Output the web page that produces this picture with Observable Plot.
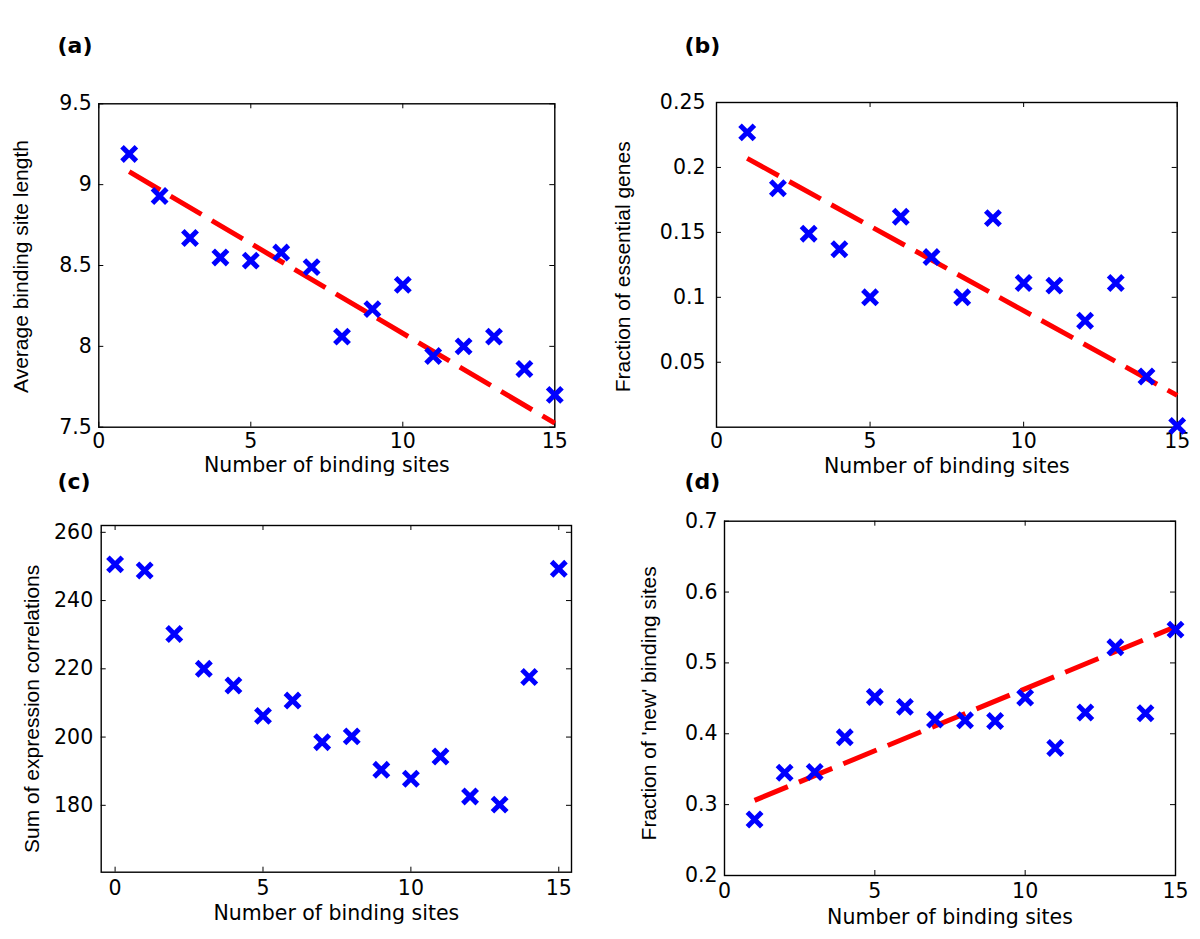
<!DOCTYPE html>
<html>
<head>
<meta charset="utf-8">
<script src="https://cdn.jsdelivr.net/npm/d3@7"></script>
<script src="https://cdn.jsdelivr.net/npm/@observablehq/plot@0.6"></script>
<style>
  html, body { margin: 0; padding: 0; background: #fff; }
  #fig { position: relative; width: 1200px; height: 939px; background: #fff; overflow: hidden; }
  .panel { position: absolute; }
</style>
</head>
<body>
<div id="fig"></div>
<script>
// ---------- data ----------
const xLabel = "Number of binding sites";
const xTickValues = [0, 5, 10, 15];

// (a)
const sitesA = [1, 2, 3, 4, 5, 6, 7, 8, 9, 10, 11, 12, 13, 14, 15];
const avgLengthA = [9.19, 8.93, 8.67, 8.55, 8.53, 8.58, 8.49, 8.06, 8.23, 8.38, 7.94, 8.00, 8.06, 7.86, 7.70];
const fitXA = [1, 15];
const fitYA = [9.08, 7.525];
const yTicksA = [7.5, 8, 8.5, 9, 9.5];

// (b)
const sitesB = [1, 2, 3, 4, 5, 6, 7, 8, 9, 10, 11, 12, 13, 14, 15];
const essentialB = [0.227, 0.184, 0.149, 0.137, 0.100, 0.162, 0.131, 0.100, 0.161, 0.111, 0.109, 0.082, 0.111, 0.039, 0.001];
const fitXB = [1, 15];
const fitYB = [0.207, 0.0245];
const yTicksB = [0.05, 0.1, 0.15, 0.2, 0.25];

// (c)
const sitesC = [0, 1, 2, 3, 4, 5, 6, 7, 8, 9, 10, 11, 12, 13, 14, 15];
const corrSumC = [250.6, 248.8, 230.2, 220.0, 215.1, 206.2, 210.7, 198.5, 200.2, 190.4, 187.8, 194.3, 182.6, 180.2, 217.6, 249.3];
const yTicksC = [180, 200, 220, 240, 260];

// (d)
const sitesD = [1, 2, 3, 4, 5, 6, 7, 8, 9, 10, 11, 12, 13, 14, 15];
const newFracD = [0.279, 0.345, 0.346, 0.395, 0.452, 0.438, 0.420, 0.419, 0.418, 0.451, 0.380, 0.430, 0.522, 0.429, 0.547];
const fitXD = [1, 15];
const fitYD = [0.306, 0.551];
const yTicksD = [0.2, 0.3, 0.4, 0.5, 0.6, 0.7];

// ---------- drawing ----------
const BLUE = "#0000ff";
const RED = "#ff0000";
const HFONT = "DejaVu Sans";
const VFONT = "Liberation Sans";

function panel(cfg) {
  const fw = cfg.width - cfg.mL - cfg.mR;
  const fh = cfg.height - cfg.mT - cfg.mB;
  const pts = cfg.xs.map((x, i) => ({x, y: cfg.ys[i]}));
  const fit = cfg.fitX ? cfg.fitX.map((x, i) => ({x, y: cfg.fitY[i]})) : [];
  const tick = 5;
  const marks = [
    Plot.ruleX(xTickValues, {x: d => d, insetTop: fh - tick, stroke: "black", strokeWidth: 1}),
    Plot.ruleX(xTickValues, {x: d => d, insetBottom: fh - tick, stroke: "black", strokeWidth: 1}),
    Plot.ruleY(cfg.yTicks, {y: d => d, insetRight: fw - tick, stroke: "black", strokeWidth: 1}),
    Plot.ruleY(cfg.yTicks, {y: d => d, insetLeft: fw - tick, stroke: "black", strokeWidth: 1}),
    Plot.frame({stroke: "black", strokeWidth: 1.4}),
  ];
  if (fit.length) {
    marks.push(Plot.line(fit, {x: "x", y: "y", stroke: RED, strokeWidth: 5, strokeDasharray: "36,12", strokeLinecap: "butt"}));
  }
  marks.push(Plot.dot(pts, {x: "x", y: "y", symbol: "times", r: 6.6, stroke: BLUE, strokeWidth: 5}));
  marks.push(Plot.text([cfg.panelLabel], {text: d => d, frameAnchor: "top-left", dx: cfg.plDx, dy: cfg.plDy,
    textAnchor: "start", lineAnchor: "bottom", fontWeight: "bold", fontSize: 22, fontFamily: HFONT, fill: "black"}));
  marks.push(Plot.text([cfg.yLabel], {text: d => d, frameAnchor: "left", rotate: -90, dx: cfg.ylDx, dy: cfg.ylDy,
    textAnchor: "middle", lineAnchor: "bottom", fontSize: 21, fontFamily: VFONT, fill: "black"}));
  marks.push(Plot.text([xLabel], {text: d => d, frameAnchor: "bottom", dy: cfg.xlDy,
    textAnchor: "middle", lineAnchor: "bottom", fontSize: 20.5, fontFamily: HFONT, fill: "black"}));

  const svg = Plot.plot({
    width: cfg.width,
    height: cfg.height,
    marginLeft: cfg.mL, marginRight: cfg.mR, marginTop: cfg.mT, marginBottom: cfg.mB,
    style: {fontFamily: HFONT, fontSize: "20.5px", background: "transparent", overflow: "visible", color: "black"},
    x: {domain: cfg.xDomain, ticks: xTickValues, tickSize: 0, tickPadding: cfg.xPad, tickFormat: d => String(d), label: null},
    y: {domain: cfg.yDomain, ticks: cfg.yTicks, tickSize: 0, tickPadding: cfg.yPad, tickFormat: d => String(d), label: null},
    marks
  });
  const wrap = document.createElement("div");
  wrap.className = "panel";
  wrap.style.left = cfg.left + "px";
  wrap.style.top = cfg.top + "px";
  wrap.appendChild(svg);
  document.getElementById("fig").appendChild(wrap);
}

panel({
  left: 0, top: 0, width: 600, height: 478, mL: 98.3, mR: 45.7, mT: 103.3, mB: 51.3,
  xs: sitesA, ys: avgLengthA, fitX: fitXA, fitY: fitYA,
  xDomain: [0, 15], yDomain: [7.5, 9.5], yTicks: yTicksA,
  xPad: 5.8, yPad: 7,
  panelLabel: "(a)", plDx: -41.3, plDy: -51,
  yLabel: "Average binding site length", ylDx: -71.3, ylDy: 1,
  xlDy: 45.2
});

panel({
  left: 600, top: 0, width: 600, height: 478, mL: 116, mR: 23.3, mT: 102, mB: 51.3,
  xs: sitesB, ys: essentialB, fitX: fitXB, fitY: fitYB,
  xDomain: [0, 15], yDomain: [0, 0.25], yTicks: yTicksB,
  xPad: 5.8, yPad: 11,
  panelLabel: "(b)", plDx: -32, plDy: -50,
  yLabel: "Fraction of essential genes", ylDx: -86.5, ylDy: 2,
  xlDy: 45.5
});

panel({
  left: 0, top: 478, width: 600, height: 461, mL: 100.7, mR: 29, mT: 47, mB: 67.3,
  xs: sitesC, ys: corrSumC,
  xDomain: [-0.47, 15.43], yDomain: [160.4, 262], yTicks: yTicksC,
  xPad: 8.2, yPad: 8,
  panelLabel: "(c)", plDx: -43.7, plDy: -36.2,
  yLabel: "Sum of expression correlations", ylDx: -62.2, ylDy: 10,
  xlDy: 48
});

panel({
  left: 600, top: 478, width: 600, height: 461, mL: 124, mR: 25, mT: 42.7, mB: 64,
  xs: sitesD, ys: newFracD, fitX: fitXD, fitY: fitYD,
  xDomain: [0, 15], yDomain: [0.2, 0.7], yTicks: yTicksD,
  xPad: 7.8, yPad: 7,
  panelLabel: "(d)", plDx: -40, plDy: -31.9,
  yLabel: "Fraction of 'new' binding sites", ylDx: -68.2, ylDy: 5,
  xlDy: 48.5
});
</script>
</body>
</html>
